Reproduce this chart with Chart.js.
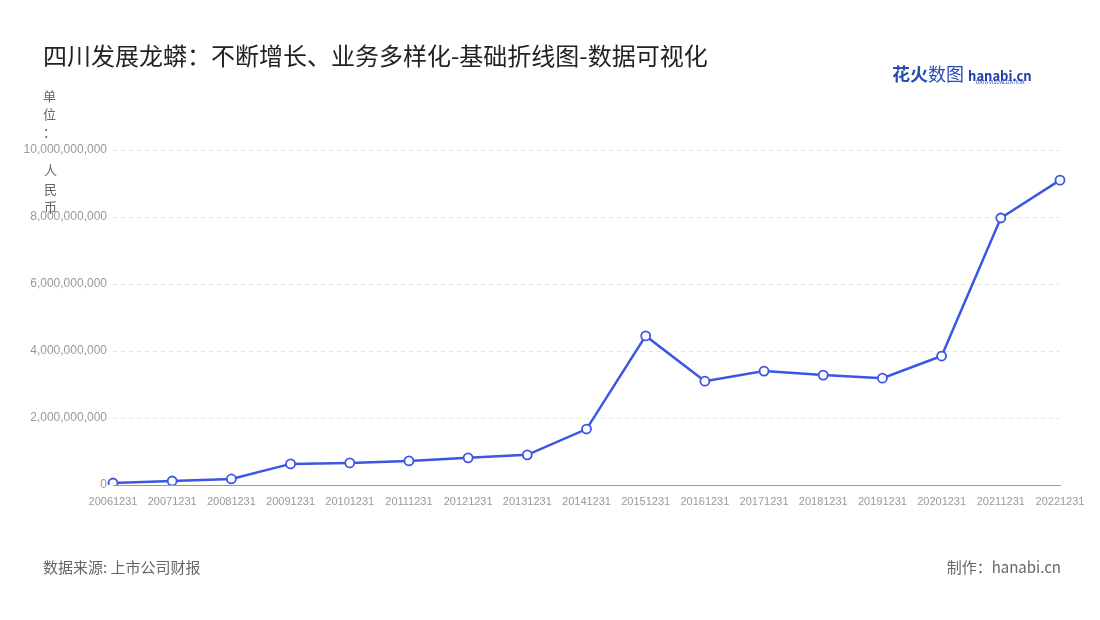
<!DOCTYPE html>
<html><head><meta charset="utf-8">
<script src="https://cdn.jsdelivr.net/npm/chart.js@4/dist/chart.umd.min.js"></script>
<style>
body{margin:0;width:1100px;height:620px;background:#fff;font-family:"Noto Sans CJK SC","Noto Sans",sans-serif;overflow:hidden}
#wrap{position:relative;width:1100px;height:620px}
canvas{position:absolute;left:0;top:0}
.t{position:absolute;white-space:nowrap}
.yc{position:absolute;left:43px;font-size:13px;color:#666}
</style></head><body>
<div id="wrap">
<canvas id="c" width="1100" height="620"></canvas>
<div class="t" style="left:43px;top:37px;font-size:24px;color:#222">四川发展龙蟒：不断增长、业务多样化-基础折线图-数据可视化</div>
<div class="t" style="left:892px;top:60px;font-size:18px;font-weight:bold;color:#2a4db5">花火<span style="font-weight:normal">数图</span> <span style="font-size:13px;color:#1f3fa8">hanabi.cn</span></div>
<div class="t" style="left:976px;top:78px;font-size:5px;color:#1f3fa8">DATA VISUALIZATION</div>
<div class="yc" style="top:86px">单</div>
<div class="yc" style="top:104px">位</div>
<div class="yc" style="top:122px">：</div>
<div class="yc" style="top:160px;left:44px">人</div>
<div class="yc" style="top:179px;left:44px">民</div>
<div class="yc" style="top:197px;left:44px">币</div>
<div class="t" style="left:43px;top:556px;font-size:15px;color:#666">数据来源: 上市公司财报</div>
<div class="t" style="right:39px;top:556px;font-size:15px;color:#666">制作：hanabi.cn</div>
</div>
<script>
const years = ['20061231','20071231','20081231','20091231','20101231','20111231','20121231','20131231','20141231','20151231','20161231','20171231','20181231','20191231','20201231','20211231','20221231'];
const revenue = [60000000,120000000,180000000,630000000,660000000,720000000,810000000,900000000,1670000000,4450000000,3100000000,3400000000,3280000000,3190000000,3850000000,7970000000,9100000000];
const yTicks = [0,2000000000,4000000000,6000000000,8000000000,10000000000];

new Chart(document.getElementById('c'), {
  type: 'line',
  data: {
    labels: years,
    datasets: [{
      data: revenue,
      borderColor: '#3b55e6',
      borderWidth: 2.5,
      backgroundColor: '#fff',
      pointBackgroundColor: '#fff',
      pointBorderColor: '#3b55e6',
      pointBorderWidth: 1.8,
      pointRadius: 4.5,
      tension: 0
    }]
  },
  options: {
    responsive: false,
    animation: false,
    layout: { padding: { left: 0, right: 40, top: 150, bottom: 105 } },
    plugins: { legend: { display: false }, tooltip: { enabled: false } },
    scales: {
      x: {
        offset: false,
        grid: { display: false },
        border: { color: '#999' },
        ticks: { color: '#999', font: { size: 11 }, padding: 2, maxRotation: 0, autoSkip: false },
        afterFit: s => { s.height = 30; }
      },
      y: {
        min: 0, max: 10000000000,
        afterBuildTicks: s => { s.ticks = yTicks.map(v => ({ value: v })); },
        grid: { color: '#e3e3e3', tickLength: 0 },
        border: { display: false, dash: [4, 4] },
        ticks: { color: '#999', font: { size: 12 }, padding: 6, callback: v => v.toLocaleString('en-US') },
        afterFit: s => { s.width = 113; }
      }
    }
  }
});
</script>
</body></html>
